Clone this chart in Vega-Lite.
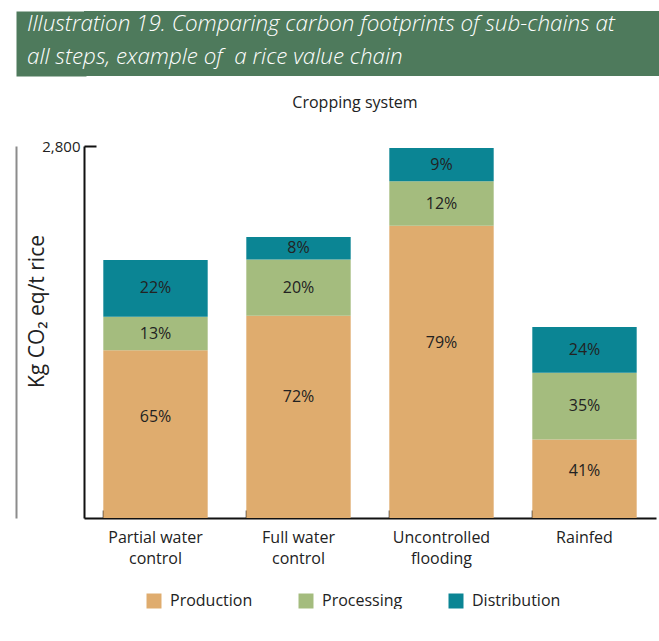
{
  "$schema": "https://vega.github.io/schema/vega-lite/v6.json",
  "padding": {"left": 16, "top": 5, "right": 0, "bottom": 0},
  "background": "white",
  "data": {"values": [
    {"system": "Partial water control", "stage": "Production", "kg": 1262, "pct": "65%"},
    {"system": "Partial water control", "stage": "Processing", "kg": 252, "pct": "13%"},
    {"system": "Partial water control", "stage": "Distribution", "kg": 428, "pct": "22%"},
    {"system": "Full water control", "stage": "Production", "kg": 1523, "pct": "72%"},
    {"system": "Full water control", "stage": "Processing", "kg": 423, "pct": "20%"},
    {"system": "Full water control", "stage": "Distribution", "kg": 169, "pct": "8%"},
    {"system": "Uncontrolled flooding", "stage": "Production", "kg": 2200, "pct": "79%"},
    {"system": "Uncontrolled flooding", "stage": "Processing", "kg": 334, "pct": "12%"},
    {"system": "Uncontrolled flooding", "stage": "Distribution", "kg": 251, "pct": "9%"},
    {"system": "Rainfed", "stage": "Production", "kg": 590, "pct": "41%"},
    {"system": "Rainfed", "stage": "Processing", "kg": 503, "pct": "35%"},
    {"system": "Rainfed", "stage": "Distribution", "kg": 345, "pct": "24%"}
  ]},
  "spacing": 18,
  "vconcat": [
    {
      "width": 576,
      "height": 65,
      "view": {"fill": "#4E7A5C", "stroke": null},
      "title": {
        "text": ["Illustration 19. Comparing carbon footprints of sub-chains at", "all steps, example of\u00a0 a rice value chain"],
        "orient": "top",
        "anchor": "start",
        "frame": "group",
        "offset": -63,
        "dx": -57,
        "color": "white",
        "font": "Open Sans",
        "fontStyle": "italic",
        "fontWeight": 300,
        "fontSize": 22.4,
        "lineHeight": 33
      },
      "mark": {"type": "text"},
      "encoding": {
        "y": {
          "field": "kg",
          "type": "quantitative",
          "axis": {
            "orient": "left",
            "offset": 33,
            "title": null,
            "labels": false,
            "ticks": false,
            "grid": false,
            "domainColor": "#4E7A5C",
            "domainWidth": 70,
            "domainCap": "butt"
          }
        },
        "text": {"value": ""}
      }
    },
    {
      "width": 572,
      "height": 372,
      "title": {
        "text": "Cropping system",
        "font": "Open Sans",
        "fontSize": 16,
        "fontWeight": "normal",
        "color": "#222222",
        "offset": 28,
        "dx": -15
      },
      "resolve": {"axis": {"y": "independent"}},
      "encoding": {
        "x": {
          "field": "system",
          "type": "nominal",
          "sort": null,
          "scale": {"paddingInner": 0.27, "paddingOuter": 0.135},
          "axis": {
            "title": null,
            "labelAngle": 0,
            "bandPosition": 0,
            "tickSize": -8,
            "tickColor": "#111111",
            "tickWidth": 1.5,
            "domainColor": "#111111",
            "domainWidth": 2,
            "labelPadding": 19,
            "labelFont": "Open Sans",
            "labelFontSize": 16,
            "labelColor": "#222222",
            "labelLineHeight": 21,
            "labelBaseline": "top",
            "labelExpr": "datum.value == 'Partial water control' ? ['Partial water', 'control'] : datum.value == 'Full water control' ? ['Full water', 'control'] : datum.value == 'Uncontrolled flooding' ? ['Uncontrolled', 'flooding'] : datum.value"
          }
        }
      },
      "layer": [
        {
          "mark": {"type": "bar"},
          "encoding": {
            "y": {
              "field": "kg",
              "type": "quantitative",
              "stack": "zero",
              "scale": {"domain": [0, 2800], "nice": false},
              "axis": {
                "orient": "left",
                "title": "Kg CO₂ eq/t rice",
                "titleFont": "Open Sans",
                "titleFontSize": 21,
                "titleFontWeight": "normal",
                "titleColor": "#222222",
                "titleX": -37,
                "titleY": 165,
                "titleAngle": 270,
                "titleAlign": "center",
                "titleBaseline": "bottom",
                "values": [2800],
                "format": ",d",
                "grid": false,
                "tickSize": -12,
                "tickWidth": 2,
                "tickColor": "#111111",
                "domainColor": "#111111",
                "domainWidth": 2,
                "labelPadding": 16,
                "labelFont": "Open Sans",
                "labelFontSize": 15,
                "labelColor": "#222222"
              }
            },
            "color": {
              "field": "stage",
              "type": "nominal",
              "scale": {"domain": ["Production", "Processing", "Distribution"], "range": ["#DFAC6E", "#A4BC7E", "#0B8594"]},
              "legend": {
                "title": null,
                "orient": "none",
                "direction": "horizontal",
                "legendX": 62,
                "legendY": 582,
                "symbolType": "square",
                "symbolSize": 225,
                "symbolStrokeWidth": 0,
                "labelFont": "Open Sans",
                "labelFontSize": 16,
                "labelColor": "#222222",
                "labelLimit": 300,
                "labelOffset": 8,
                "columnPadding": 45
              }
            },
            "order": {"field": "stage", "sort": "descending"}
          }
        },
        {
          "mark": {"type": "text", "font": "Open Sans", "fontSize": 16, "color": "#222222"},
          "encoding": {
            "y": {
              "field": "kg",
              "type": "quantitative",
              "stack": "zero",
              "bandPosition": 0.5,
              "axis": {
                "orient": "left",
                "offset": 68,
                "title": null,
                "labels": false,
                "ticks": false,
                "grid": false,
                "domainColor": "#8C8C8C",
                "domainWidth": 2
              }
            },
            "detail": {"field": "stage"},
            "order": {"field": "stage", "sort": "descending"},
            "text": {"condition": {"test": "datum.stage == 'Production'", "value": ""}, "field": "pct"}
          }
        },
        {
          "transform": [{"filter": "datum.stage == 'Production'"}],
          "mark": {"type": "text", "font": "Open Sans", "fontSize": 16, "color": "#222222"},
          "encoding": {
            "y": {"field": "kg", "type": "quantitative", "stack": "zero", "bandPosition": 0.6, "axis": null},
            "text": {"field": "pct"}
          }
        }
      ]
    }
  ],
  "config": {
    "view": {"stroke": null},
    "font": "Open Sans"
  }
}
